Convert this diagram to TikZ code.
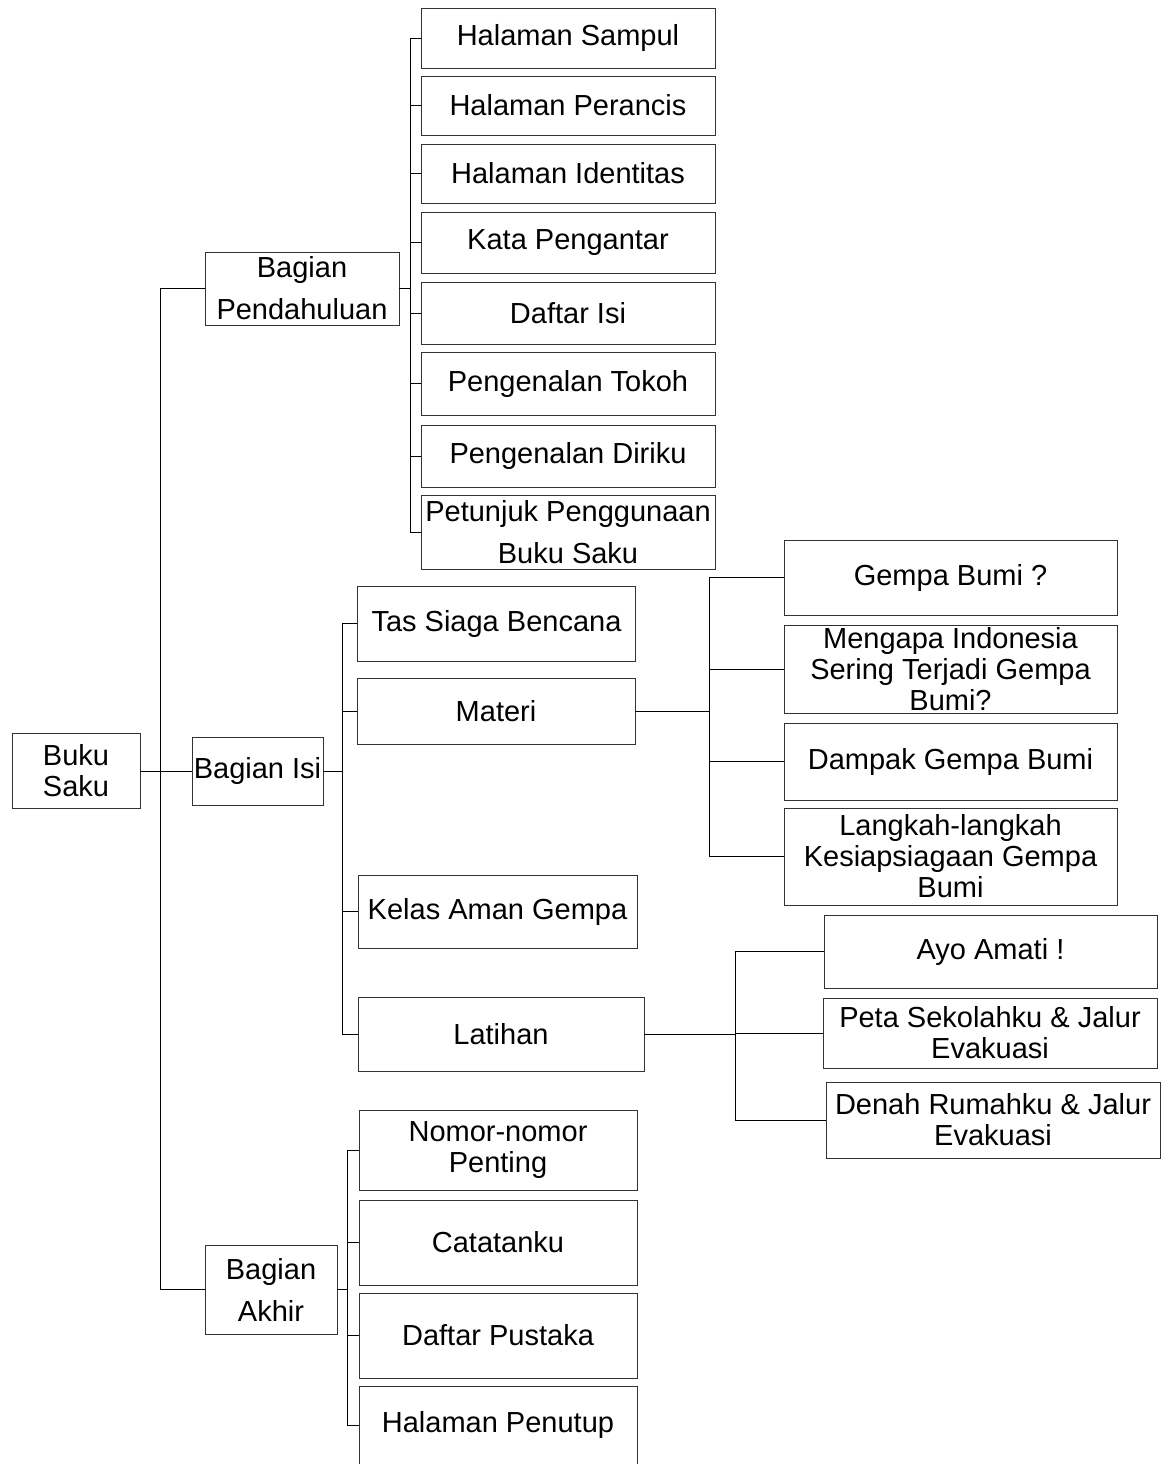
\documentclass[tikz,border=0pt]{standalone}
\usepackage{fontspec}
\setmainfont{Liberation Sans}

\tikzset{every picture/.style={line width=0.9pt}}
\tikzset{
  kotak/.style={draw=black!80, align=center, inner sep=0pt, font=\fontsize{29}{31}\selectfont},
  renggang/.style={font=\fontsize{29}{42}\selectfont},
}

\begin{document}
\begin{tikzpicture}[x=1pt,y=1pt,yscale=-1,xscale=1]
\useasboundingbox (0,0) rectangle (1173,1464);

%Shape: akar dan bagian utama
\node[kotak, minimum width=128pt, minimum height=75pt] (buku) at (76,771) {Buku\\Saku};
\node[kotak, renggang, minimum width=194pt, minimum height=73pt] (pend) at (302,288.5) {Bagian\\Pendahuluan};
\node[kotak, minimum width=131pt, minimum height=68pt] (bisi) at (257.5,771) {Bagian Isi};
\node[kotak, renggang, minimum width=132pt, minimum height=89pt] (akhir) at (271,1289.5) {Bagian\\ Akhir};

%Shape: bagian pendahuluan
\node[kotak, minimum width=294pt, minimum height=60pt] (hsampul) at (568,38) {Halaman Sampul};
\node[kotak, minimum width=294pt, minimum height=59pt] (hperancis) at (568,105.5) {Halaman Perancis};
\node[kotak, minimum width=294pt, minimum height=59pt] (hidentitas) at (568,173.5) {Halaman Identitas};
\node[kotak, minimum width=294pt, minimum height=61pt] (kata) at (568,242.5) {Kata Pengantar};
\node[kotak, minimum width=294pt, minimum height=62pt] (daftarisi) at (568,313) {Daftar Isi};
\node[kotak, minimum width=294pt, minimum height=63pt] (tokoh) at (568,383.5) {Pengenalan Tokoh};
\node[kotak, minimum width=294pt, minimum height=62pt] (diriku) at (568,456) {Pengenalan Diriku};
\node[kotak, renggang, minimum width=294pt, minimum height=74pt] (petunjuk) at (568,532) {Petunjuk Penggunaan\\Buku Saku};

%Shape: bagian isi
\node[kotak, minimum width=278pt, minimum height=75pt] (tas) at (496.5,623.5) {Tas Siaga Bencana};
\node[kotak, minimum width=278pt, minimum height=66pt] (materi) at (496,711) {Materi};
\node[kotak, minimum width=279pt, minimum height=73pt] (kelas) at (497.5,911.5) {Kelas Aman Gempa};
\node[kotak, minimum width=286pt, minimum height=74pt] (latihan) at (501,1034) {Latihan};

%Shape: materi
\node[kotak, minimum width=333pt, minimum height=75pt] (gempa) at (950.5,577.5) {Gempa Bumi ?};
\node[kotak, minimum width=333pt, minimum height=88pt] (mengapa) at (950.5,669) {Mengapa Indonesia\\Sering Terjadi Gempa\\Bumi?};
\node[kotak, minimum width=333pt, minimum height=77pt] (dampak) at (950.5,761.5) {Dampak Gempa Bumi};
\node[kotak, minimum width=333pt, minimum height=97pt] (langkah) at (950.5,856.5) {Langkah-langkah\\Kesiapsiagaan Gempa\\Bumi};

%Shape: latihan
\node[kotak, minimum width=333pt, minimum height=73pt] (ayo) at (990.5,951.5) {Ayo Amati !};
\node[kotak, minimum width=334pt, minimum height=70pt] (peta) at (990,1033) {Peta Sekolahku \& Jalur\\Evakuasi};
\node[kotak, minimum width=334pt, minimum height=76pt] (denah) at (993,1120) {Denah Rumahku \& Jalur\\Evakuasi};

%Shape: bagian akhir
\node[kotak, minimum width=278pt, minimum height=80pt] (nomor) at (498,1150) {Nomor-nomor\\Penting};
\node[kotak, minimum width=278pt, minimum height=85pt] (catatan) at (498,1242.5) {Catatanku};
\node[kotak, minimum width=278pt, minimum height=85pt] (pustaka) at (498,1335.5) {Daftar Pustaka};
\node[kotak, minimum width=278pt, minimum height=78pt] (penutup) at (498,1425) {Halaman Penutup};

%Straight Lines: garis tegak tiap cabang
\coordinate (br) at (160,0);
\coordinate (bp) at (410,0);
\coordinate (bi) at (342,0);
\coordinate (bm) at (709,0);
\coordinate (bl) at (735,0);
\coordinate (ba) at (347,0);

\draw (pend.west) -- (pend.west -| br) -- (akhir.west -| br) -- (akhir.west);
\draw (buku.east) -- (bisi.west);

\draw (pend.east) -- (pend.east -| bp);
\draw (hsampul.west -| bp) -- (petunjuk.west -| bp);
\foreach \n in {hsampul,hperancis,hidentitas,kata,daftarisi,tokoh,diriku,petunjuk}
  \draw (\n.west -| bp) -- (\n.west);

\draw (bisi.east) -- (bisi.east -| bi);
\draw (tas.west -| bi) -- (latihan.west -| bi);
\foreach \n in {tas,materi,kelas,latihan}
  \draw (\n.west -| bi) -- (\n.west);

\draw (materi.east) -- (materi.east -| bm);
\draw (gempa.west -| bm) -- (langkah.west -| bm);
\foreach \n in {gempa,mengapa,dampak,langkah}
  \draw (\n.west -| bm) -- (\n.west);

\draw (latihan.east) -- (latihan.east -| bl);
\draw (ayo.west -| bl) -- (denah.west -| bl);
\foreach \n in {ayo,peta,denah}
  \draw (\n.west -| bl) -- (\n.west);

\draw (akhir.east) -- (akhir.east -| ba);
\draw (nomor.west -| ba) -- (penutup.west -| ba);
\foreach \n in {nomor,catatan,pustaka,penutup}
  \draw (\n.west -| ba) -- (\n.west);

\end{tikzpicture}
\end{document}
